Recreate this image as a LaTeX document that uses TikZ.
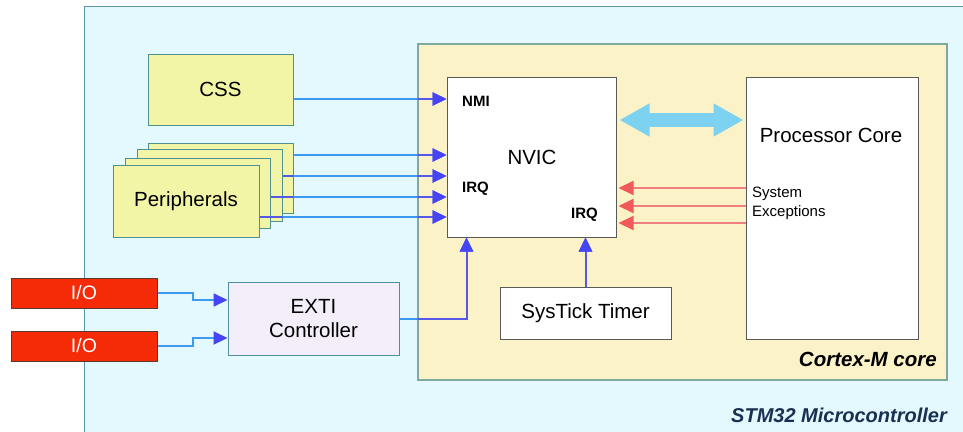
\documentclass[tikz,border=0pt]{standalone}
\usepackage{fontspec}
\setmainfont{Liberation Sans}
\usetikzlibrary{arrows.meta,calc}
\definecolor{outerbg}{HTML}{E3F9FE}
\definecolor{outerline}{HTML}{5A95A8}
\definecolor{corebg}{HTML}{FCF2C8}
\definecolor{coreline}{HTML}{7FA8A0}
\definecolor{ylw}{HTML}{F3F5A6}
\definecolor{ylwline}{HTML}{4F9090}
\definecolor{lav}{HTML}{F3EEFA}
\definecolor{lavline}{HTML}{4F8FA0}
\definecolor{iored}{HTML}{F52A07}
\definecolor{ioline}{HTML}{5A3A30}
\definecolor{bline}{HTML}{3D9AF0}
\definecolor{pline}{HTML}{5858E8}
\definecolor{btip}{HTML}{4545F5}
\definecolor{rline}{HTML}{F08080}
\definecolor{rtip}{HTML}{F05A5A}
\definecolor{dcyan}{HTML}{7DD2F2}
\definecolor{navy}{HTML}{1A3050}
\tikzset{
  bigfont/.style={font=\fontsize{20.5}{24}\selectfont},
  box/.style={draw, line width=1pt, minimum width=#1, inner sep=0pt, align=center},
  ybox/.style={box=145pt, fill=ylw, draw=ylwline, minimum height=71pt, bigfont},
  wbox/.style={draw=black!65, fill=white, line width=1pt, inner sep=0pt, align=center},
  iobox/.style={draw=ioline, fill=iored, line width=1pt, minimum width=146pt, minimum height=30pt, inner sep=0pt, text=white, font=\fontsize{19.5}{22}\selectfont},
  barr/.style={draw=bline, line width=2pt, -{Triangle[length=14pt,width=13pt,color=btip]}},
  rarr/.style={draw=rline, line width=2pt, -{Triangle[length=15pt,width=14pt,color=rtip]}},
  small/.style={font=\bfseries\fontsize{15}{17}\selectfont, inner sep=0pt},
  bilabel/.style={font=\bfseries\itshape\fontsize{20.5}{24}\selectfont, anchor=east, inner sep=0pt},
}
\newcommand\nvicinputs[1]{%
  \draw[barr, draw=#1] (css.east |- 0,99) -- (nvic.west |- 0,99);
  \draw[barr, draw=#1] (p4.east |- 0,155) -- (nvic.west |- 0,155);
  \draw[barr, draw=#1] (p3.east |- 0,176) -- (nvic.west |- 0,176);
  \draw[barr, draw=#1] (p2.east |- 0,197) -- (nvic.west |- 0,197);
  \draw[barr, draw=#1] (p1.east |- 0,217) -- (nvic.west |- 0,217);
  \draw[barr, draw=#1] (exti.east) -| ([xshift=20pt]nvic.south west);
  \draw[barr, draw=#1] (systick.north) -- (nvic.south -| systick.north);
}
\begin{document}
\begin{tikzpicture}[x=1pt,y=-1pt]
\clip (0,0) rectangle (963,431);
\fill[white] (0,0) rectangle (963,431);
% outer box
\draw[fill=outerbg, draw=outerline, line width=1pt] (84,6) rectangle (980,450);
\node[bilabel, font=\bfseries\itshape\fontsize{20}{24}\selectfont, text=navy] (stm) at (947,415) {STM32 Microcontroller};
% core box
\node[draw=coreline, fill=corebg, line width=1.2pt, minimum width=529pt, minimum height=336pt, inner sep=0pt] (core) at (682.5,212) {};
\node[bilabel] (corelbl) at (937,359) {Cortex-M core};
% CSS
\node[ybox] (css) at (220.5,89.5) {CSS};
% Peripherals stack
\node[ybox, minimum height=70pt] (p4) at (220.5,178) {};
\node[ybox, minimum height=72pt] (p3) at (209.5,185) {};
\node[ybox, minimum height=70pt] (p2) at (198,193) {};
\node[ybox, minimum width=146pt, minimum height=72pt] (p1) at (186,201) {Peripherals};
% NVIC
\node[wbox, minimum width=169pt, minimum height=160pt] (nvic) at (531.5,157) {};
\node[bigfont, inner sep=0pt] (nviclbl) at (532,157) {NVIC};
\node[small, anchor=west] (nmi) at (462,101) {NMI};
\node[small, anchor=west] (irq1) at (462,189) {IRQ};
\node[small, anchor=west] (irq2) at (571,215) {IRQ};
% Processor core
\node[wbox, minimum width=172pt, minimum height=262pt] (proc) at (832,208) {};
\node[bigfont, inner sep=0pt] (proclbl) at (831,135) {Processor Core};
\node[font=\fontsize{15}{19}\selectfont, align=left, anchor=north west, inner sep=0pt] (sysex) at (752,187) {System\\Exceptions};
% SysTick
\node[wbox, minimum width=171pt, minimum height=52pt, bigfont] (systick) at (585.5,313) {SysTick Timer};
% EXTI
\node[box=171pt, fill=lav, draw=lavline, minimum height=73pt, bigfont] (exti) at (313.5,318.5) {EXTI\\Controller};
% I/O
\node[iobox] (io1) at (84,293) {I/O};
\node[iobox] (io2) at (84,346) {I/O};
% connectors into the NVIC: light blue, purple where they cross boxes
\nvicinputs{bline}
\begin{scope}
  \clip (core.north west) rectangle (core.south east)
        (p2.north west) rectangle (p2.south east)
        (p3.north west) rectangle (p3.south east)
        (p4.north west) rectangle (p4.south east);
  \nvicinputs{pline}
\end{scope}
\draw[barr] (io1.east) -- ++(35,0) |- ([yshift=18.5pt]exti.west);
\draw[barr] (io2.east) -- ++(35,0) |- ([yshift=-19.5pt]exti.west);
\draw[rarr] (proc.west |- 0,188) -- ([xshift=2pt]nvic.east |- 0,188);
\draw[rarr] (proc.west |- 0,206) -- ([xshift=2pt]nvic.east |- 0,206);
\draw[rarr] (proc.west |- 0,223) -- ([xshift=2pt]nvic.east |- 0,223);
\draw[draw=dcyan, line width=14pt, {Triangle[length=30pt,width=31pt,color=dcyan]}-{Triangle[length=30pt,width=31pt,color=dcyan]}, shorten <=3pt, shorten >=2pt] (nvic.east |- 0,120) -- (proc.west |- 0,120);
\end{tikzpicture}
\end{document}
